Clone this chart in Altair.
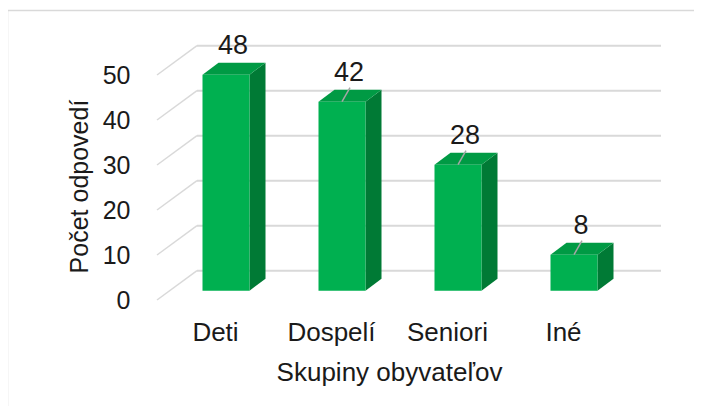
import altair as alt
import pandas as pd

# ---- data ----
categories = ["Deti", "Dospelí", "Seniori", "Iné"]
values = [48, 42, 28, 8]
y_ticks = [0, 10, 20, 30, 40, 50]
leader_shown = [False, True, True, True]

x_title = "Skupiny obyvateľov"
y_title = "Počet odpovedí"

# ---- 3D geometry (in scale units) ----
XU = 116.0   # px per category
VU = 4.5     # px per value unit
WALL_DX = 40 / XU
WALL_DY = 29.3 / VU
BAR_W = 47 / XU
BAR_CX = 11 / XU
BAR_Y0 = 9.3 / VU
BAR_DX = 16 / XU
BAR_DY = 12 / VU
LAB_DX = 7 / XU
LAB_DY = 29 / VU
LEAD_DX = 8 / XU
LEAD_DY = 14 / VU

n = len(categories)
xs = alt.Scale(domain=[0, n], nice=False, zero=False)
ys = alt.Scale(domain=[y_ticks[0], y_ticks[-1]], nice=False, zero=False)

FRONT = "#00B050"
TOP = "#009A44"
SIDE = "#007A35"
GRID = "#D9D9D9"
TXT = "#1A1A1A"
FONT = "Liberation Sans"

# grid tables
grid = pd.DataFrame({"t": y_ticks})
grid["bx"] = WALL_DX
grid["bx2"] = n + WALL_DX
grid["by"] = grid["t"] + WALL_DY
grid["fx"] = 0.0

# bars
front_rows, side_rows, top_rows, lab_rows = [], [], [], []
for i, (c, v) in enumerate(zip(categories, values)):
    cx = i + 0.5 + BAR_CX
    xl, xr = cx - BAR_W / 2, cx + BAR_W / 2
    front_rows.append({"cat": c, "x": xl, "x2": xr, "y": BAR_Y0, "y2": v + BAR_Y0})
    side_rows.append({"cat": c, "x": xr, "y": BAR_Y0, "y2": v + BAR_Y0})
    side_rows.append({"cat": c, "x": xr + BAR_DX, "y": BAR_Y0 + BAR_DY, "y2": v + BAR_Y0 + BAR_DY})
    top_rows.append({"cat": c, "y": v + BAR_Y0, "x": xl, "x2": xr})
    top_rows.append({"cat": c, "y": v + BAR_Y0 + BAR_DY, "x": xl + BAR_DX, "x2": xr + BAR_DX})
    lab_rows.append({"cat": c, "v": v, "lx": cx + LAB_DX, "ly": v + BAR_Y0 + LAB_DY,
                     "ax": cx, "ay": v + BAR_Y0, "ax2": cx + LEAD_DX, "ay2": v + BAR_Y0 + LEAD_DY,
                     "lead": leader_shown[i]})
front = pd.DataFrame(front_rows)
side = pd.DataFrame(side_rows)
top = pd.DataFrame(top_rows)
labs = pd.DataFrame(lab_rows)

label_expr = "[" + ",".join("'" + c + "'" for c in categories) + "][floor(datum.value)]"

AX = alt.Axis(
    values=[i + 0.5 for i in range(n)], labelExpr=label_expr, ticks=False, domain=False,
    grid=False, labelPadding=19, labelFontSize=26, labelColor=TXT, labelFont=FONT,
    labelFlush=False, labelOverlap=False, zindex=1,
    title=x_title, titleFontSize=26, titleFontWeight="normal", titleColor=TXT, titleFont=FONT,
    titleY=80, titleBaseline="alphabetic")
AY = alt.Axis(
    values=y_ticks, ticks=False, domain=False, grid=False, labelPadding=27,
    labelFontSize=25, labelColor=TXT, labelFont=FONT, zindex=1,
    title=y_title, titleFontSize=25, titleFontWeight="normal", titleColor=TXT, titleFont=FONT,
    titleAngle=-90, titleX=-70, titleY=111, titleAlign="center", titleBaseline="alphabetic")


def X(f, **kw):
    return alt.X(f, scale=xs, axis=AX, title=x_title, **kw)


def Y(f, **kw):
    return alt.Y(f, scale=ys, axis=AY, title=y_title, **kw)


border = alt.Chart(pd.DataFrame({"a": [0]})).mark_rect(
    fillOpacity=0, stroke=GRID, strokeWidth=1.5
).encode(x=alt.value(-149.5), x2=alt.value(700), y=alt.value(-64.5), y2=alt.value(500))

back_lines = alt.Chart(grid).mark_rule(color=GRID, strokeWidth=2).encode(
    x=X("bx:Q"), x2="bx2:Q", y=Y("by:Q"),
)
diag_lines = alt.Chart(grid).mark_rule(color=GRID, strokeWidth=1.5).encode(
    x=X("fx:Q"), x2="bx:Q", y=Y("t:Q"), y2="by:Q",
)

front_face = alt.Chart(front).mark_rect(color=FRONT).encode(
    x=X("x:Q"), x2="x2:Q", y=Y("y:Q"), y2="y2:Q",
)

side_face = alt.Chart(side).mark_area(color=SIDE, orient="vertical").encode(
    x=X("x:Q"), y=Y("y:Q", stack=None), y2="y2:Q", detail="cat:N",
)
top_face = alt.Chart(top).mark_area(color=TOP, orient="horizontal").encode(
    y=Y("y:Q"), x=X("x:Q", stack=None), x2="x2:Q", detail="cat:N",
)

leaders = alt.Chart(labs).transform_filter("datum.lead").mark_rule(
    color="#A6A6A6", strokeWidth=1.5
).encode(
    x=X("ax:Q"), x2="ax2:Q", y=Y("ay:Q"), y2="ay2:Q",
)

value_labels = alt.Chart(labs).mark_text(
    fontSize=27, font=FONT, color=TXT, baseline="middle", align="center"
).encode(
    x=X("lx:Q"), y=Y("ly:Q"), text="v:Q",
)

chart = alt.layer(
    border, back_lines, diag_lines, side_face, top_face, front_face, leaders, value_labels
).properties(
    width=n * XU, height=(y_ticks[-1] - y_ticks[0]) * VU,
    autosize=alt.AutoSizeParams(type="none"),
    padding={"left": 149, "top": 67, "right": 73, "bottom": 106},
    background="white",
).configure_view(stroke=None)

chart.save("out.html", embed_options={"renderer": "svg", "actions": False})
